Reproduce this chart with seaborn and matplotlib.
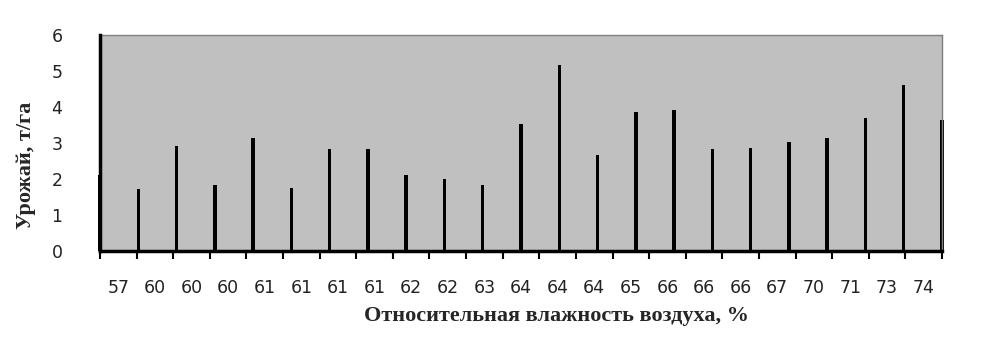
import numpy as np
import pandas as pd
import seaborn as sns
import matplotlib.pyplot as plt

# relative air humidity, % (category labels)
humidity = ['57', '60', '60', '60', '61', '61', '61', '61', '62', '62', '63', '64',
            '64', '64', '65', '66', '66', '66', '67', '70', '71', '73', '74']
# yield, t/ha
yield_t = [2.11, 1.71, 2.92, 1.83, 3.14, 1.76, 2.84, 2.84, 2.12, 2.01, 1.83, 3.52,
           5.17, 2.67, 3.87, 3.93, 2.84, 2.85, 3.02, 3.14, 3.69, 4.60, 3.64]

df = pd.DataFrame({'pos': np.arange(len(yield_t)), 'yield': yield_t})

sns.set_style('white')
plt.rcParams['font.family'] = ['DejaVu Sans']

fig = plt.figure(figsize=(10, 3.59), dpi=100)
ax = fig.add_axes([0.100, 0.301, 0.842, 0.6015])

# bars on their own axis (behind the frame), first and last at the plot edges
n = len(humidity)
ax2 = ax.twiny()
ax.set_zorder(ax2.get_zorder() + 1)
ax.patch.set_visible(False)
ax2.patch.set_visible(True)
ax2.set_facecolor('#c0c0c0')
sns.barplot(data=df, x='pos', y='yield', color='black', width=0.09,
            saturation=1, edgecolor='black', linewidth=0, ax=ax2)
for p in ax2.patches:
    p.set_clip_on(False)
ax2.set_xlim(0, n - 1)
ax2.set_ylim(0, 6)
ax2.set_xlabel('')
ax2.set_ylabel('')
ax2.set_xticks([])
for s in ax2.spines.values():
    s.set_visible(False)

# category axis (labels between ticks)
ax.set_xlim(-0.5, n - 0.5)
ax.set_xticks(np.arange(n))
ax.set_xticklabels(humidity, fontsize=12.5, color='#222222')
ax.set_xticks(np.arange(n + 1) - 0.5, minor=True)
ax.tick_params(axis='x', which='major', length=0, pad=20)
ax.tick_params(axis='x', which='minor', length=6, width=1.5, color='black', direction='out')
ax.set_ylim(0, 6)
ax.set_yticks(range(7))
ax.tick_params(axis='y', length=7, width=1.5, color='black', direction='out',
               labelsize=12.5, pad=20, labelcolor='#222222')

for s in ['left', 'bottom']:
    ax.spines[s].set_color('black')
    ax.spines[s].set_linewidth(2.5)
    ax.spines[s].set_zorder(5)
for s in ['top', 'right']:
    ax.spines[s].set_color('#808080')
    ax.spines[s].set_linewidth(1)

ax.set_xlabel('')
ax.set_ylabel('')
fig.text(0.026, 0.538, 'Урожай, т/га', rotation=90, ha='center', va='center',
         fontsize=16, fontweight='bold', family='Liberation Serif')
fig.text(0.557, 0.12, 'Относительная влажность воздуха, %', ha='center', va='center',
         fontsize=16, fontweight='bold', family='Liberation Serif')

fig.savefig('out.png', dpi=100)
